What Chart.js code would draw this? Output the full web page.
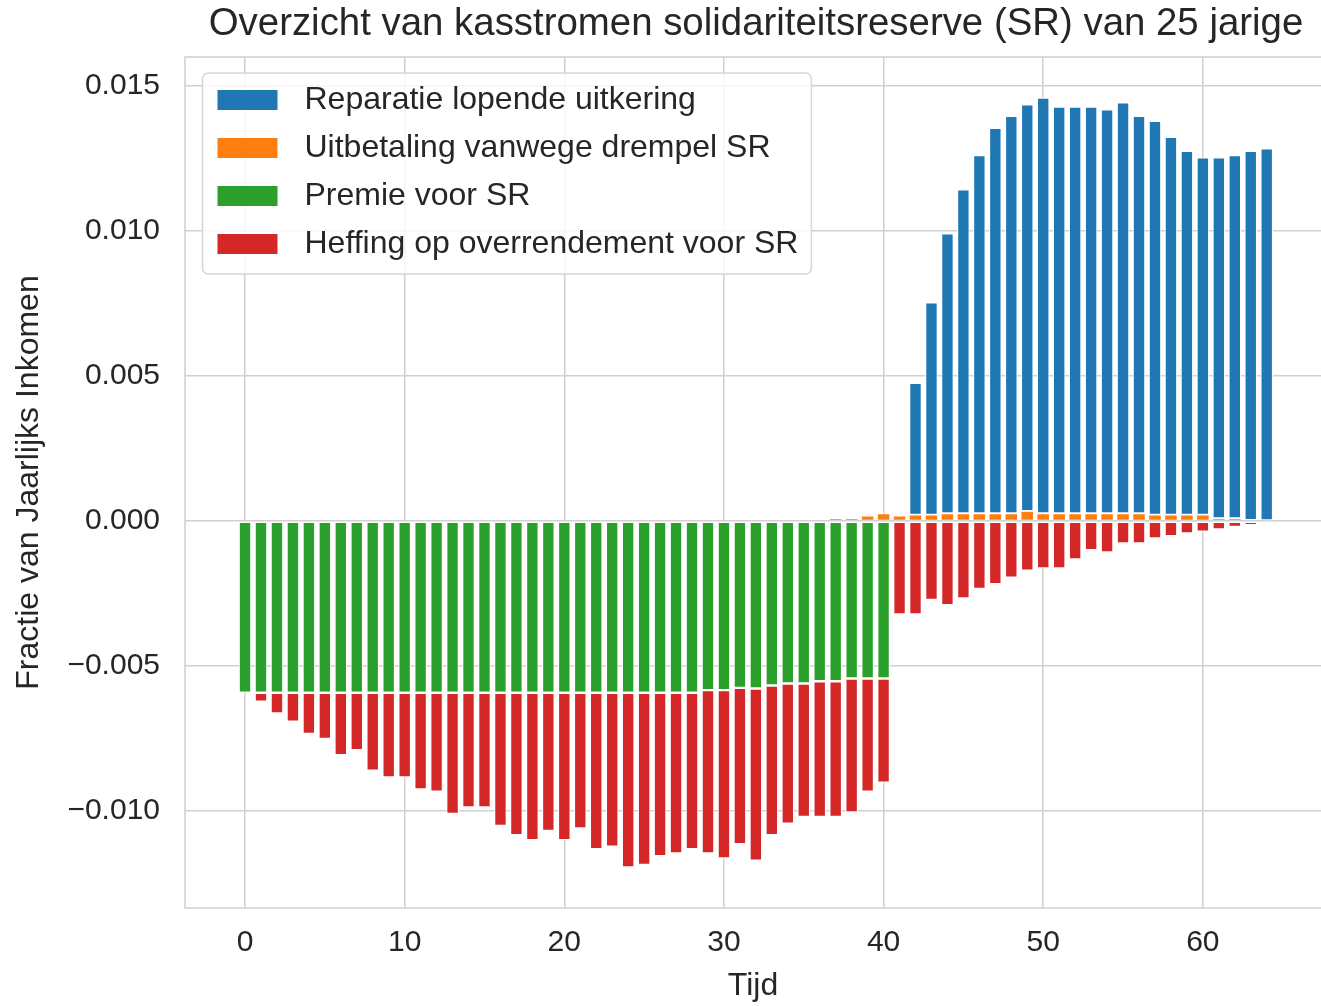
<!DOCTYPE html>
<html>
<head>
<meta charset="utf-8">
<title>Overzicht van kasstromen solidariteitsreserve (SR)</title>
<script src="https://cdn.jsdelivr.net/npm/chart.js@4.4.1/dist/chart.umd.min.js"></script>
<style>
  html, body { margin: 0; padding: 0; background: #ffffff; }
  #wrap { width: 1321px; height: 1006px; }
</style>
</head>
<body>
<div id="wrap"><canvas id="kasstromen" width="1321" height="1006"></canvas></div>
<script>
// chart data
var tijd = [0, 1, 2, 3, 4, 5, 6, 7, 8, 9, 10, 11, 12, 13, 14, 15, 16, 17, 18, 19,
  20, 21, 22, 23, 24, 25, 26, 27, 28, 29, 30, 31, 32, 33, 34, 35, 36, 37, 38, 39,
  40, 41, 42, 43, 44, 45, 46, 47, 48, 49, 50, 51, 52, 53, 54, 55, 56, 57, 58, 59,
  60, 61, 62, 63, 64];

var reparatie = [null, null, null, null, null, null, null, null, null, null,
  null, null, null, null, null, null, null, null, null, null,
  null, null, null, null, null, null, null, null, null, null,
  null, null, null, null, null, null, null, null, null, null,
  null, null, 0.00456, 0.00733, 0.00966, 0.01118, 0.01236, 0.01330, 0.01371, 0.01403,
  0.01434, 0.01403, 0.01403, 0.01403, 0.01394, 0.01418, 0.01371, 0.01359, 0.01304, 0.01256,
  0.01233, 0.01245, 0.01253, 0.01274, 0.01285];

var uitbetaling = [null, null, null, null, null, null, null, null, null, null,
  null, null, null, null, null, null, null, null, null, null,
  null, null, null, null, null, null, null, null, null, null,
  null, null, null, null, null, null, null, 0.00009, 0.00009, 0.00018,
  0.00026, 0.00018, 0.00021, 0.00021, 0.00026, 0.00026, 0.00026, 0.00026, 0.00026, 0.00034,
  0.00026, 0.00026, 0.00026, 0.00026, 0.00026, 0.00026, 0.00026, 0.00021, 0.00021, 0.00021,
  0.00021, 0.00009, 0.00009, 0.00003, null];

var premie = [-0.00592, -0.00592, -0.00592, -0.00592, -0.00592, -0.00592, -0.00592, -0.00592, -0.00592, -0.00592,
  -0.00592, -0.00592, -0.00592, -0.00592, -0.00592, -0.00592, -0.00592, -0.00592, -0.00592, -0.00592,
  -0.00592, -0.00592, -0.00592, -0.00592, -0.00592, -0.00592, -0.00592, -0.00592, -0.00592, -0.00583,
  -0.00583, -0.00575, -0.00577, -0.00567, -0.00560, -0.00560, -0.00552, -0.00552, -0.00543, -0.00543,
  -0.00543, null, null, null, null, null, null, null, null, null,
  null, null, null, null, null, null, null, null, null, null,
  null, null, null, null, null];

var heffing = [null, -0.00031, -0.00071, -0.00100, -0.00142, -0.00159, -0.00215, -0.00198, -0.00269, -0.00292,
  -0.00292, -0.00333, -0.00341, -0.00418, -0.00395, -0.00395, -0.00459, -0.00491, -0.00508, -0.00476,
  -0.00508, -0.00468, -0.00539, -0.00531, -0.00602, -0.00594, -0.00563, -0.00554, -0.00539, -0.00563,
  -0.00580, -0.00539, -0.00594, -0.00516, -0.00483, -0.00460, -0.00468, -0.00468, -0.00462, -0.00390,
  -0.00359, -0.00322, -0.00322, -0.00272, -0.00290, -0.00267, -0.00234, -0.00218, -0.00195, -0.00171,
  -0.00163, -0.00163, -0.00132, -0.00100, -0.00108, -0.00077, -0.00077, -0.00060, -0.00052, -0.00043,
  -0.00037, -0.00029, -0.00020, -0.00014, null];

var xTicks = [0, 10, 20, 30, 40, 50, 60];
var yTicks = [-0.010, -0.005, 0.000, 0.005, 0.010, 0.015];

var chartTitle = 'Overzicht van kasstromen solidariteitsreserve (SR) van 25 jarige';
var fontFamily = '"Liberation Sans", Arial, sans-serif';
var textColor = '#262626';
var gridColor = '#d0d0d0';

Chart.defaults.font.family = fontFamily;
Chart.defaults.color = textColor;

// spines (top, left, bottom; the right one falls off the picture)
var frame = {
  id: 'frame',
  beforeDatasetsDraw: function (chart) {
    var a = chart.chartArea, ctx = chart.ctx;
    ctx.save();
    ctx.strokeStyle = gridColor;
    ctx.lineWidth = 1.5;
    ctx.strokeRect(a.left, a.top, a.right - a.left + 10, a.bottom - a.top);
    ctx.restore();
  }
};

// title centred over the axes
var titel = {
  id: 'titel',
  afterDraw: function (chart) {
    var a = chart.chartArea, ctx = chart.ctx;
    ctx.save();
    ctx.font = '38.4px ' + fontFamily;
    ctx.fillStyle = textColor;
    ctx.textAlign = 'center';
    ctx.textBaseline = 'middle';
    ctx.fillText(chartTitle, (a.left + a.right) / 2 + 3, 24);
    ctx.restore();
  }
};

// matplotlib-like legend box in the upper left of the axes
var legenda = {
  id: 'legenda',
  afterDatasetsDraw: function (chart) {
    var a = chart.chartArea, ctx = chart.ctx;
    var left = a.left + 17.5, top = a.top + 16;
    ctx.save();
    ctx.font = '32px ' + fontFamily;
    var maxW = 0;
    chart.data.datasets.forEach(function (ds) {
      maxW = Math.max(maxW, ctx.measureText(ds.label).width);
    });
    var textX = left + 102;
    var w = textX + maxW + 13 - left, h = 201, r = 6;
    ctx.beginPath();
    ctx.moveTo(left + r, top);
    ctx.arcTo(left + w, top, left + w, top + h, r);
    ctx.arcTo(left + w, top + h, left, top + h, r);
    ctx.arcTo(left, top + h, left, top, r);
    ctx.arcTo(left, top, left + w, top, r);
    ctx.closePath();
    ctx.fillStyle = 'rgba(255,255,255,0.8)';
    ctx.fill();
    ctx.strokeStyle = '#d6d6d6';
    ctx.lineWidth = 1.5;
    ctx.stroke();
    chart.data.datasets.forEach(function (ds, i) {
      var cy = top + 27 + i * 48;
      ctx.fillStyle = ds.backgroundColor;
      ctx.fillRect(left + 15, cy - 10, 60, 20);
      ctx.fillStyle = textColor;
      ctx.textAlign = 'left';
      ctx.textBaseline = 'middle';
      ctx.fillText(ds.label, textX, cy);
    });
    ctx.restore();
  }
};

function barSet(label, data, color, order, edge) {
  return {
    label: label,
    data: data,
    backgroundColor: color,
    borderColor: '#ffffff',
    borderWidth: edge,
    borderSkipped: false,
    barPercentage: 0.8,
    categoryPercentage: 1.0,
    order: order
  };
}

new Chart(document.getElementById('kasstromen'), {
  type: 'bar',
  data: {
    labels: tijd,
    datasets: [
      barSet('Reparatie lopende uitkering', reparatie, '#1f77b4', 1, 1.2),
      barSet('Uitbetaling vanwege drempel SR', uitbetaling, '#ff7f0e', 0, 0.6),
      barSet('Premie voor SR', premie, '#2ca02c', 0, 1.2),
      barSet('Heffing op overrendement voor SR', heffing, '#d62728', 1, 1.2)
    ]
  },
  options: {
    responsive: false,
    animation: false,
    devicePixelRatio: 1,
    layout: { padding: { top: 57, right: 0, bottom: 0, left: 0 } },
    plugins: {
      legend: { display: false },
      title: { display: false },
      tooltip: { enabled: false }
    },
    scales: {
      x: {
        type: 'linear',
        stacked: true,
        offset: false,
        min: -3.76,
        max: 67.4,
        afterBuildTicks: function (scale) {
          scale.ticks = xTicks.map(function (v) { return { value: v }; });
        },
        afterFit: function (scale) { scale.height = 98; },
        grid: { color: gridColor, lineWidth: 1.5, drawTicks: false, offset: false },
        border: { display: false },
        ticks: {
          padding: 16.5,
          maxRotation: 0,
          autoSkip: false,
          color: textColor,
          font: { size: 30 }
        },
        title: {
          display: true,
          text: 'Tijd',
          color: textColor,
          font: { size: 32 },
          padding: { top: 0, bottom: 1 }
        }
      },
      y: {
        type: 'linear',
        stacked: true,
        min: -0.01334,
        max: 0.0160,
        afterBuildTicks: function (scale) {
          scale.ticks = yTicks.map(function (v) { return { value: v }; });
        },
        afterFit: function (scale) { scale.width = 185; },
        grid: { color: gridColor, lineWidth: 1.5, drawTicks: false },
        border: { display: false },
        ticks: {
          padding: 25,
          color: textColor,
          font: { size: 30 },
          callback: function (v) {
            if (Math.abs(v) < 1e-9) return '0.000';
            return (v < 0 ? '\u2212' : '') + Math.abs(v).toFixed(3);
          }
        },
        title: {
          display: true,
          text: 'Fractie van Jaarlijks Inkomen',
          color: textColor,
          font: { size: 32 },
          padding: { top: 10, bottom: 0 }
        }
      }
    }
  },
  plugins: [frame, legenda, titel]
});
</script>
</body>
</html>
